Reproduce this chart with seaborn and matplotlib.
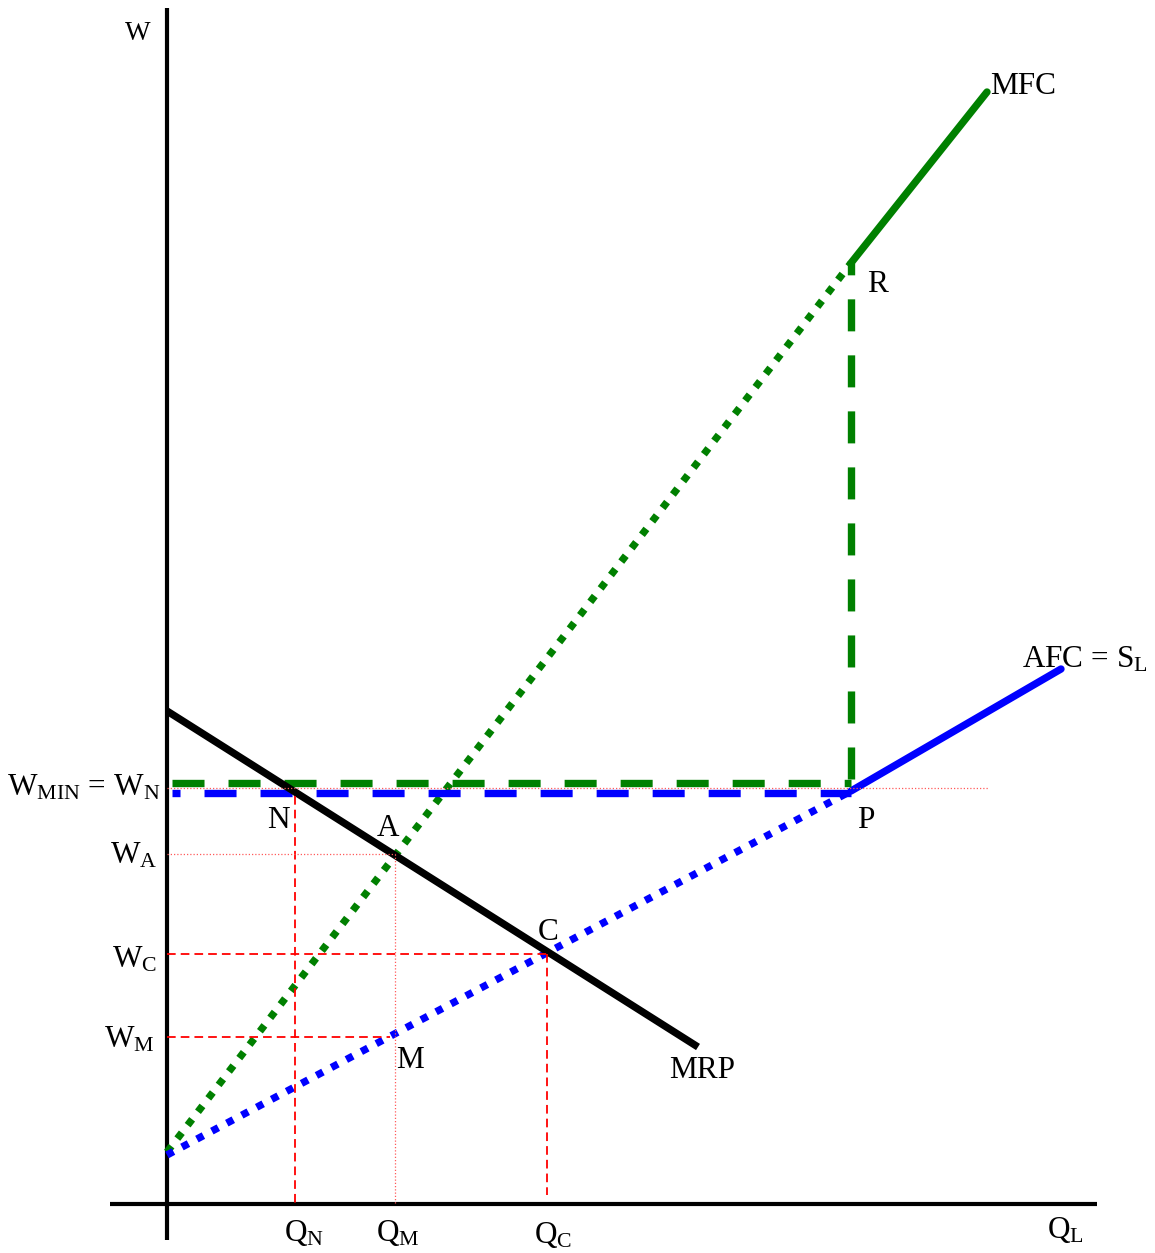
import matplotlib
matplotlib.use("Agg")
import matplotlib.pyplot as plt
import seaborn as sns

# ---- diagram values (quantity of labour Q, wage W) ----
mrp_q = [0, 531]
mrp_w = [493, 157]

afc_q = [0, 684, 894]          # rising supply curve, kinked at P
afc_w = [49, 413, 535]

mfc_q = [0, 684, 820]          # marginal factor cost, R at the kink
mfc_w = [52, 941, 1112]

q_n, q_m, q_c = 128, 228, 380  # employment levels
w_min, w_a, w_c, w_m = 416, 350, 250, 167  # wage levels
q_end = 821                     # reach of the minimum-wage guide

sns.set_style("white")
plt.rcParams["font.family"] = ["Liberation Serif", "DejaVu Serif"]
plt.rcParams["mathtext.fontset"] = "custom"
plt.rcParams["mathtext.rm"] = "Liberation Serif"
plt.rcParams["mathtext.it"] = "Liberation Serif:italic"
plt.rcParams["text.color"] = "black"

fig = plt.figure(figsize=(11.55, 12.53), dpi=100)
ax = fig.add_axes([0, 0, 1, 1])
ax.set_xlim(-167, 988)
ax.set_ylim(-49, 1204)
ax.axis("off")

GREEN, BLUE, RED, PINK = "#008000", "#0000ff", "#ff0000", "#ff5a5a"
DOT = (0, (1.0, 1.3))
DASH = (0, (4.35, 3.26))
DASH_BLUE = (3.26, (4.35, 3.26))
RDASH = (0, (4.8, 2.8))
RDOT = (0, (1.0, 1.6))
THICK = 5.3


def seg(x, y, **kw):
    sns.lineplot(x=x, y=y, ax=ax, estimator=None, sort=False, **kw)


# axes
ax.plot([0, 0], [-36, 1196], color="black", lw=3, solid_capstyle="butt", zorder=2)
ax.plot([-57, 930], [0, 0], color="black", lw=3, solid_capstyle="butt", zorder=2)

# MFC: dotted up to R, solid beyond
seg(mfc_q[:2], mfc_w[:2], color=GREEN, lw=THICK, linestyle=DOT, zorder=3)
seg(mfc_q[1:], mfc_w[1:], color=GREEN, lw=THICK, zorder=3)

# AFC = supply: dotted up to P, solid beyond
seg(afc_q[:2], afc_w[:2], color=BLUE, lw=THICK, linestyle=DOT, zorder=3)
seg(afc_q[1:], afc_w[1:], color=BLUE, lw=THICK, zorder=3)

# minimum wage: new MFC (green) and new AFC (blue), both flat up to P
seg([5, afc_q[1]], [w_min + 5, w_min + 5], color=GREEN, lw=THICK, linestyle=DASH, zorder=3)
seg([5, afc_q[1]], [w_min - 5, w_min - 5], color=BLUE, lw=THICK, linestyle=DASH_BLUE, zorder=3)
# vertical gap in MFC between P and R
seg([afc_q[1], afc_q[1]], [w_min + 9, mfc_w[1]], color=GREEN, lw=THICK, linestyle=DASH, zorder=3)

# MRP
seg(mrp_q, mrp_w, color="black", lw=THICK, solid_capstyle="butt", zorder=4)

# guide lines
seg([0, q_end], [w_min, w_min], color=PINK, lw=0.9, linestyle=RDOT, zorder=5)
seg([q_n, q_n], [w_min - 8, 0], color=RED, lw=1.3, linestyle=RDASH, zorder=5)
seg([0, q_m], [w_a, w_a], color=PINK, lw=0.9, linestyle=RDOT, zorder=5)
seg([q_m, q_m], [w_a, 0], color=PINK, lw=0.9, linestyle=RDOT, zorder=5)
seg([0, q_c], [w_c, w_c], color=RED, lw=1.3, linestyle=RDASH, zorder=5)
seg([q_c, q_c], [w_c, 9], color=RED, lw=1.3, linestyle=RDASH, zorder=5)
seg([0, q_m - 5], [w_m, w_m], color=RED, lw=1.3, linestyle=RDASH, zorder=5)

FS = 22.5
# axis names
ax.text(-29, 1171, "W", fontsize=19.5, ha="center", va="center")
ax.text(880, -34, r"Q$_\mathrm{L}$", fontsize=FS, ha="left", va="baseline")

# wage labels
ax.text(-7, 409, r"W$_\mathrm{MIN}$ = W$_\mathrm{N}$", fontsize=FS, ha="right", va="baseline")
ax.text(-10, 341, r"W$_\mathrm{A}$", fontsize=FS, ha="right", va="baseline")
ax.text(-10, 237, r"W$_\mathrm{C}$", fontsize=FS, ha="right", va="baseline")
ax.text(-12, 156, r"W$_\mathrm{M}$", fontsize=FS, ha="right", va="baseline")

# quantity labels
ax.text(117, -37, r"Q$_\mathrm{N}$", fontsize=FS, ha="left", va="baseline")
ax.text(209, -37, r"Q$_\mathrm{M}$", fontsize=FS, ha="left", va="baseline")
ax.text(367, -39, r"Q$_\mathrm{C}$", fontsize=FS, ha="left", va="baseline")

# point labels
for s, x, y in [("N", 111, 384), ("A", 221, 376), ("R", 710, 920),
                ("P", 699, 384), ("C", 381, 271), ("M", 243, 144)]:
    ax.text(x, y, s, fontsize=FS, ha="center", va="center")

# curve labels
ax.text(535, 134, "MRP", fontsize=FS, ha="center", va="center")
ax.text(856, 1118, "MFC", fontsize=FS, ha="center", va="center")
ax.text(855, 537, r"AFC = S$_\mathrm{L}$", fontsize=FS, ha="left", va="baseline")

fig.savefig("out.png", dpi=100)
